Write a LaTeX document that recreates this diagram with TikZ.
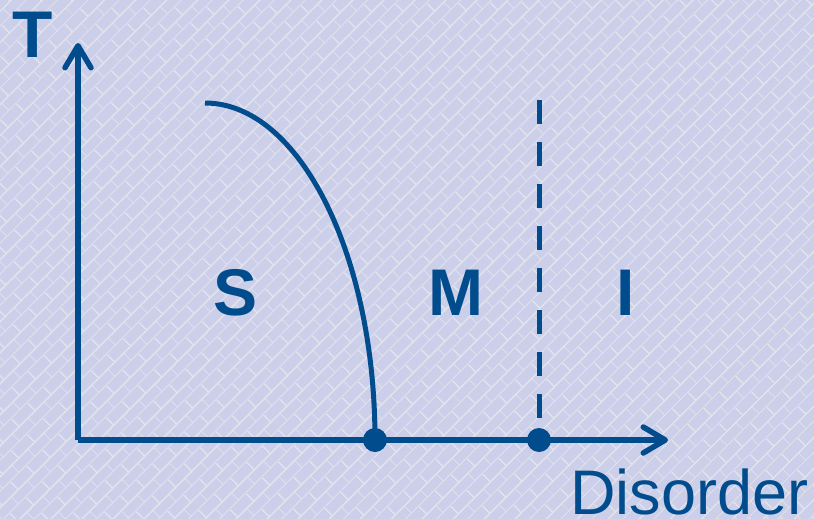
\documentclass[tikz,border=0pt]{standalone}
\usepackage{fontspec}
\setmainfont{Liberation Sans}
\usetikzlibrary{arrows.meta,patterns.meta}
\definecolor{bgc}{RGB}{204,207,233}
\definecolor{grout}{RGB}{226,226,234}
\definecolor{ink}{RGB}{0,76,140}
\tikzdeclarepattern{
  name=diagbricks,
  type=colored,
  bounding box={(0pt,0pt) and (22pt,22pt)},
  tile size={(22pt,22pt)},
  tile transformation={rotate=45},
  code={
    \draw[grout,line width=1.6pt] (0pt,0pt) -- (22pt,0pt) (0pt,11pt) -- (22pt,11pt)
      (0pt,0pt) -- (0pt,11pt) (11pt,11pt) -- (11pt,22pt);
  }
}
\tikzset{
  axis/.style={ink,line width=5.5pt,-{Straight Barb[length=22pt,width=26pt,round]}},
  lbl/.style={text=ink,font=\fontsize{66}{66}\selectfont\bfseries,anchor=base,inner sep=0pt},
  dotn/.style={circle,fill=ink,minimum size=24pt,inner sep=0pt},
}
\begin{document}
\begin{tikzpicture}[x=1pt,y=-1pt]
\useasboundingbox (0,0) rectangle (814,519);
\fill[bgc] (0,0) rectangle (814,519);
\fill[pattern=diagbricks] (0,0) rectangle (814,519);
\coordinate (O) at (78,440);
\coordinate (ytip) at (78,43);
\coordinate (xtip) at (668,440);
\coordinate (ctop) at (205,103);
\coordinate (dtop) at (539,100);
\node[dotn] (d1) at (375,440) {};
\node[dotn] (d2) at (539,440) {};
\draw[axis] (O) -- (ytip);
\draw[axis] (O) -- (xtip);
\draw[ink,line width=5pt] (ctop) .. controls (298.9,103) and (375,253.9) .. (d1.center);
\draw[ink,line width=5pt,dash pattern=on 24pt off 18pt] (dtop) -- (d2.center);
\node[lbl] (T) at (33,58) {T};
\node[lbl] (S) at (236,315) {S};
\node[lbl] (M) at (456,315) {M};
\node[lbl] (I) at (626,315) {I};
\node[text=ink,font=\fontsize{63}{63}\selectfont,anchor=base west,inner sep=0pt] (dis) at (570,514) {Disorder};
\end{tikzpicture}
\end{document}
